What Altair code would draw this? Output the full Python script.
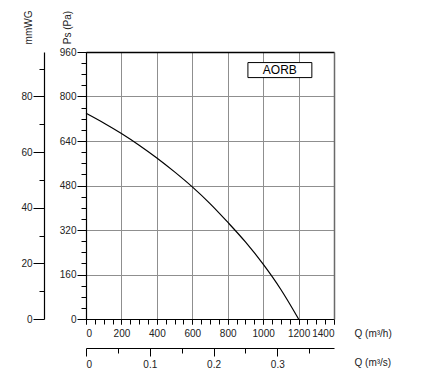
import altair as alt
import pandas as pd

# Fan curve
Q_MH = [0, 100, 200, 300, 400, 500, 600, 700, 800, 900, 1000, 1100, 1200]
PS_PA = [740, 705, 667, 625, 579, 529, 475, 415, 348, 277, 197, 106, 0]

PA_TICKS = [0, 160, 320, 480, 640, 800, 960]
PA_MINOR = list(range(0, 961, 40))
QH_TICKS = [0, 200, 400, 600, 800, 1000, 1200, 1400]
QH_MINOR = list(range(0, 1401, 50))
MM_TICKS = [0, 20, 40, 60, 80]
MM_MINOR = [10, 30, 50, 70, 90]
QS_TICKS = [0, 0.1, 0.2, 0.3]
QS_MINOR = [0.05, 0.15, 0.25, 0.35]

LABEL = ["AORB"]
BOX_Q = [914, 1275]
BOX_PA = [868, 922]
LABEL_Q = [1094]
LABEL_PA = [895]

df = pd.DataFrame({"Q": Q_MH, "Pa": PS_PA})
box_df = pd.DataFrame({"q1": [BOX_Q[0]], "q2": [BOX_Q[1]], "p1": [BOX_PA[0]], "p2": [BOX_PA[1]]})
lab_df = pd.DataFrame({"q": LABEL_Q, "p": LABEL_PA, "t": LABEL})

FONT = "Liberation Sans"
GRID = "#8f8f8f"
QS = alt.Scale(domain=[0, 1400], nice=False, zero=True)
PS = alt.Scale(domain=[0, 960], nice=False, zero=True)
QSS = alt.Scale(domain=[0, 1400 / 3600], nice=False, zero=True)
MMS = alt.Scale(domain=[0, 96], nice=False, zero=True)

base = alt.Chart(df)

curve = base.mark_line(color="black", strokeWidth=1.2, interpolate="monotone").encode(
    x=alt.X("Q:Q", scale=QS, axis=alt.Axis(
        orient="bottom", values=QH_TICKS, format="d", tickSize=5, labelPadding=4, grid=True,
        gridColor=GRID, gridOpacity=1, domainColor="black", tickColor="black",
        title="Q (m³/h)", titleX=268, titleY=14, titleAlign="left",
        titleBaseline="middle", titleAngle=0)),
    y=alt.Y("Pa:Q", scale=PS, axis=alt.Axis(
        orient="left", values=PA_TICKS, format="d", tickSize=9, labelPadding=1, grid=True,
        gridColor=GRID, gridOpacity=1, domainColor="black", tickColor="black",
        title="Ps (Pa)", titleX=-18.5, titleY=-25, titleAngle=270,
        titleAlign="center", titleBaseline="middle")),
)

minor = base.mark_point(opacity=0).encode(
    x=alt.X("Q:Q", scale=QS, axis=alt.Axis(
        orient="bottom", values=QH_MINOR, tickSize=5, labels=False, domain=False,
        grid=False, tickColor="black", title=None)),
    y=alt.Y("Pa:Q", scale=PS, axis=alt.Axis(
        orient="left", values=PA_MINOR, tickSize=5, labels=False, domain=False,
        grid=False, tickColor="black", title=None)),
)

second = base.mark_point(opacity=0).transform_calculate(
    qs="datum.Q / 3600", mm="datum.Pa / 10"
).encode(
    x=alt.X("qs:Q", scale=QSS, axis=alt.Axis(
        orient="bottom", offset=29, values=QS_TICKS, format=".1~f", tickSize=8,
        labelPadding=3, grid=False, domainColor="black", tickColor="black",
        title="Q (m³/s)", titleX=268, titleY=14, titleAlign="left",
        titleBaseline="middle", titleAngle=0)),
    y=alt.Y("mm:Q", scale=MMS, axis=alt.Axis(
        orient="left", offset=42, values=MM_TICKS, format="d", tickSize=11, labelPadding=1,
        grid=False, domainColor="black", tickColor="black",
        title="mmWG", titleX=-15.5, titleY=-25, titleAngle=270,
        titleAlign="center", titleBaseline="middle")),
)

second_minor = base.mark_point(opacity=0).transform_calculate(
    qs="datum.Q / 3600", mm="datum.Pa / 10"
).encode(
    x=alt.X("qs:Q", scale=QSS, axis=alt.Axis(
        orient="bottom", offset=29, values=QS_MINOR, tickSize=5, labels=False,
        domain=False, grid=False, tickColor="black", title=None)),
    y=alt.Y("mm:Q", scale=MMS, axis=alt.Axis(
        orient="left", offset=42, values=MM_MINOR, tickSize=5, labels=False,
        domain=False, grid=False, tickColor="black", title=None)),
)

box = alt.Chart(box_df).mark_rect(fill="white", stroke="black", strokeWidth=1).encode(
    x=alt.X("q1:Q", scale=QS, axis=alt.Axis(
        orient="top", labels=False, ticks=False, grid=False, domain=True,
        domainColor="black", domainWidth=1.5, title=None)),
    x2="q2:Q",
    y=alt.Y("p1:Q", scale=PS, axis=alt.Axis(
        orient="right", labels=False, ticks=False, grid=False, domain=True,
        domainColor="#6a6a6a", domainWidth=1.5, title=None)),
    y2="p2:Q",
)

label = alt.Chart(lab_df).mark_text(fontSize=12, font=FONT, color="black").encode(
    x=alt.X("q:Q", scale=QS, axis=None),
    y=alt.Y("p:Q", scale=PS, axis=None),
    text="t:N",
)

chart = alt.layer(curve, minor, second, second_minor, box, label).resolve_scale(
    x="independent", y="independent"
).properties(
    width=248, height=267,
    autosize=alt.AutoSizeParams(type="none"),
    padding={"left": 86, "top": 52, "right": 110, "bottom": 65},
    background="white",
).configure_view(stroke=None).configure_axis(
    labelFont=FONT, labelFontSize=10, labelColor="#222",
    titleFont=FONT, titleFontSize=10, titleFontWeight="normal", titleColor="#222",
    domainWidth=1.2, tickWidth=1,
)

chart.save("out.html", embed_options={"renderer": "svg", "actions": False})
